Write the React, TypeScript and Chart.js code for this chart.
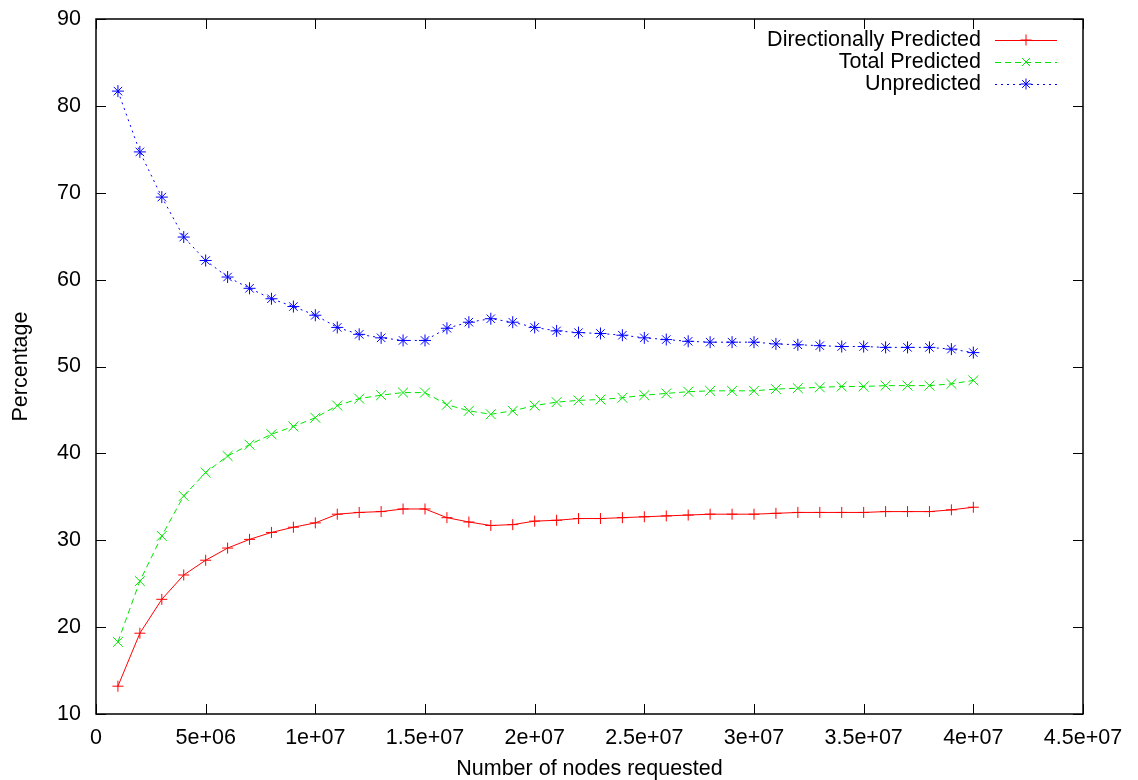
import React, { useEffect, useRef } from "react";
import { Chart, registerables } from "chart.js";

Chart.register(...registerables);

const nodesRequested = [
  1e6, 2e6, 3e6, 4e6, 5e6, 6e6, 7e6, 8e6, 9e6, 10e6,
  11e6, 12e6, 13e6, 14e6, 15e6, 16e6, 17e6, 18e6, 19e6, 20e6,
  21e6, 22e6, 23e6, 24e6, 25e6, 26e6, 27e6, 28e6, 29e6, 30e6,
  31e6, 32e6, 33e6, 34e6, 35e6, 36e6, 37e6, 38e6, 39e6, 40e6,
];

const directionallyPredicted = [
  13.2, 19.3, 23.2, 26.0, 27.7, 29.1, 30.1, 30.9, 31.5, 32.0,
  33.0, 33.2, 33.3, 33.6, 33.6, 32.6, 32.1, 31.7, 31.8, 32.2,
  32.3, 32.5, 32.5, 32.6, 32.7, 32.8, 32.9, 33.0, 33.0, 33.0,
  33.1, 33.2, 33.2, 33.2, 33.2, 33.3, 33.3, 33.3, 33.5, 33.8,
];

const totalPredicted = [
  18.3, 25.3, 30.5, 35.1, 37.8, 39.7, 41.0, 42.2, 43.1, 44.1,
  45.5, 46.3, 46.7, 47.0, 47.0, 45.6, 44.9, 44.5, 44.9, 45.5,
  45.9, 46.1, 46.2, 46.4, 46.7, 46.9, 47.1, 47.2, 47.2, 47.2,
  47.4, 47.5, 47.6, 47.7, 47.7, 47.8, 47.8, 47.8, 48.0, 48.4,
];

const unpredicted = [
  81.7, 74.7, 69.5, 64.9, 62.2, 60.3, 59.0, 57.8, 56.9, 55.9,
  54.5, 53.7, 53.3, 53.0, 53.0, 54.4, 55.1, 55.5, 55.1, 54.5,
  54.1, 53.9, 53.8, 53.6, 53.3, 53.1, 52.9, 52.8, 52.8, 52.8,
  52.6, 52.5, 52.4, 52.3, 52.3, 52.2, 52.2, 52.2, 52.0, 51.6,
];

const xTickLabels = [
  "0", "5e+06", "1e+07", "1.5e+07", "2e+07", "2.5e+07", "3e+07", "3.5e+07", "4e+07", "4.5e+07",
];
const yTickLabels = ["10", "20", "30", "40", "50", "60", "70", "80", "90"];

const seriesNames = ["Directionally Predicted", "Total Predicted", "Unpredicted"];
const seriesColors = ["#ff0000", "#00e600", "#0000ff"];
const seriesDashes = [[], [6, 4], [2, 4]];
const seriesPoints = ["cross", "crossRot", "star"];
const seriesRadius = [5.5, 7, 6];

const xTitle = "Number of nodes requested";
const yTitle = "Percentage";

const FONT = '"Liberation Sans", Arial, Helvetica, sans-serif';
const FONT_SIZE = 21.5;

function drawMarker(ctx: CanvasRenderingContext2D, style: string, x: number, y: number, r: number) {
  ctx.beginPath();
  if (style === "cross" || style === "star") {
    ctx.moveTo(x - r, y);
    ctx.lineTo(x + r, y);
    ctx.moveTo(x, y - r);
    ctx.lineTo(x, y + r);
  }
  if (style === "crossRot" || style === "star") {
    const d = r * Math.SQRT1_2;
    ctx.moveTo(x - d, y - d);
    ctx.lineTo(x + d, y + d);
    ctx.moveTo(x - d, y + d);
    ctx.lineTo(x + d, y - d);
  }
  ctx.stroke();
}

const framePlugin = {
  id: "gnuplotFrame",
  afterDraw(chart: any) {
    const ctx = chart.ctx as CanvasRenderingContext2D;
    const { left, right, top, bottom } = chart.chartArea;
    const xs = chart.scales.x;
    const ys = chart.scales.y;
    ctx.save();
    ctx.strokeStyle = "#000";
    ctx.lineWidth = 1.5;
    ctx.setLineDash([]);
    ctx.strokeRect(left, top, right - left, bottom - top);
    const tl = 10;
    ctx.lineWidth = 1;
    ctx.beginPath();
    xs.ticks.forEach((t: any) => {
      const px = Math.round(xs.getPixelForValue(t.value)) + 0.5;
      ctx.moveTo(px, bottom);
      ctx.lineTo(px, bottom - tl);
      ctx.moveTo(px, top);
      ctx.lineTo(px, top + tl);
    });
    ys.ticks.forEach((t: any) => {
      const py = Math.round(ys.getPixelForValue(t.value)) + 0.5;
      ctx.moveTo(left, py);
      ctx.lineTo(left + tl, py);
      ctx.moveTo(right, py);
      ctx.lineTo(right - tl, py);
    });
    ctx.stroke();

    ctx.fillStyle = "#000";
    ctx.font = `${FONT_SIZE}px ${FONT}`;
    ctx.textAlign = "center";
    ctx.textBaseline = "middle";
    ctx.fillText(xTitle, (left + right) / 2, 769);
    ctx.save();
    ctx.translate(21, (top + bottom) / 2);
    ctx.rotate(-Math.PI / 2);
    ctx.fillText(yTitle, 0, 0);
    ctx.restore();

    const textRight = right - 102;
    const lineStart = right - 88;
    const lineEnd = right - 26;
    chart.data.datasets.forEach((ds: any, i: number) => {
      const y = top + 21 + i * 22;
      ctx.fillStyle = "#000";
      ctx.textAlign = "right";
      ctx.textBaseline = "middle";
      ctx.fillText(ds.label, textRight, y);
      ctx.strokeStyle = ds.borderColor;
      ctx.lineWidth = 1;
      ctx.setLineDash(ds.borderDash || []);
      ctx.beginPath();
      ctx.moveTo(lineStart, y + 0.5);
      ctx.lineTo(lineEnd, y + 0.5);
      ctx.stroke();
      ctx.setLineDash([]);
      drawMarker(ctx, ds.pointStyle, (lineStart + lineEnd) / 2, y, 5.5);
    });
    ctx.restore();
  },
};

export default function App() {
  const canvasRef = useRef<HTMLCanvasElement | null>(null);

  useEffect(() => {
    if (!canvasRef.current) return;
    const seriesValues = [directionallyPredicted, totalPredicted, unpredicted];
    const chart = new Chart(canvasRef.current, {
      type: "line",
      data: {
        datasets: seriesValues.map((vals, i) => ({
          label: seriesNames[i],
          data: vals.map((v, j) => ({ x: nodesRequested[j], y: v })),
          borderColor: seriesColors[i],
          backgroundColor: seriesColors[i],
          borderWidth: 1,
          borderDash: seriesDashes[i],
          pointStyle: seriesPoints[i],
          pointRadius: seriesRadius[i],
          pointBorderWidth: 1,
          pointBorderColor: seriesColors[i],
          pointBackgroundColor: seriesColors[i],
          tension: 0,
          fill: false,
        })),
      },
      options: {
        animation: false,
        responsive: true,
        maintainAspectRatio: false,
        layout: { padding: { left: 0, right: 55, top: 19, bottom: 0 } },
        plugins: {
          legend: { display: false },
          tooltip: { enabled: false },
        },
        scales: {
          x: {
            type: "linear",
            min: 0,
            max: 4.5e7,
            grid: { display: false, drawTicks: false },
            border: { display: false },
            afterFit: (scale: any) => {
              scale.height = 66;
              scale.paddingLeft = 0;
              scale.paddingRight = 0;
            },
            ticks: {
              stepSize: 5e6,
              autoSkip: false,
              maxRotation: 0,
              padding: 11,
              color: "#000",
              font: { family: FONT, size: FONT_SIZE },
              callback: (_v: any, i: number) => xTickLabels[i],
            },
          },
          y: {
            type: "linear",
            min: 10,
            max: 90,
            grid: { display: false, drawTicks: false },
            border: { display: false },
            afterFit: (scale: any) => {
              scale.width = 96;
              scale.paddingTop = 0;
              scale.paddingBottom = 0;
            },
            ticks: {
              stepSize: 10,
              autoSkip: false,
              padding: 15,
              color: "#000",
              font: { family: FONT, size: FONT_SIZE },
              callback: (_v: any, i: number) => yTickLabels[i],
            },
          },
        },
      },
      plugins: [framePlugin],
    });
    return () => chart.destroy();
  }, []);

  return (
    <div style={{ position: "absolute", left: 0, top: 0, width: 1138, height: 780, background: "#fff" }}>
      <canvas ref={canvasRef} />
    </div>
  );
}
